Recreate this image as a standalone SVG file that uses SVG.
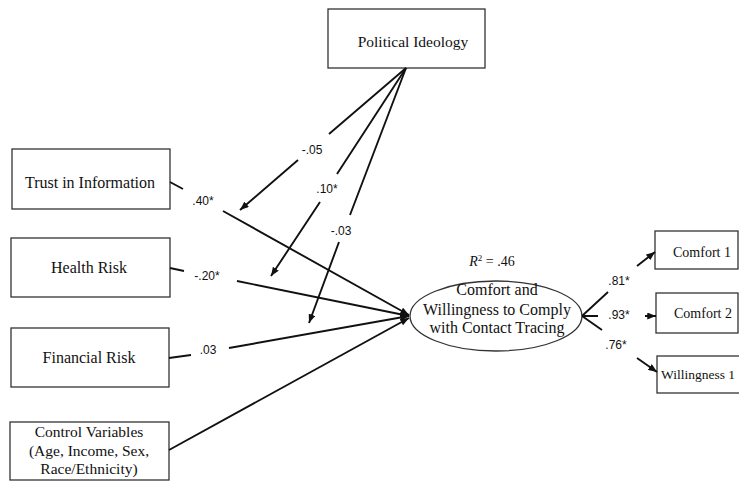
<svg xmlns="http://www.w3.org/2000/svg" width="739" height="481" viewBox="0 0 739 481">
<defs>
<style>
.box{fill:#fff;stroke:#333;stroke-width:1.3}
.lbl{font-family:"Liberation Serif","Times New Roman",serif;font-size:16px;fill:#111;text-anchor:middle}
.coef{font-family:"Liberation Sans",Arial,sans-serif;font-size:12px;fill:#111;text-anchor:middle}
.ln{fill:none;stroke:#111;stroke-width:1.9}
</style>
<marker id="ah" viewBox="0 0 10 8" refX="10" refY="4" markerWidth="9" markerHeight="7" markerUnits="userSpaceOnUse" orient="auto">
<path d="M0,0 L10,4 L0,8 z" fill="#111"/>
</marker>
</defs>
<rect width="739" height="481" fill="#fff"/>

<g id="political-ideology">
<rect class="box" x="328" y="9" width="157" height="59"/>
<text class="lbl" x="413" y="47" style="font-size:15.5px">Political Ideology</text>
</g>
<g id="trust">
<rect class="box" x="12" y="149" width="158" height="60"/>
<text class="lbl" x="90" y="188">Trust in Information</text>
</g>
<g id="health-risk">
<rect class="box" x="11" y="238" width="159" height="59"/>
<text class="lbl" x="89" y="273">Health Risk</text>
</g>
<g id="financial-risk">
<rect class="box" x="11" y="328" width="158" height="59"/>
<text class="lbl" x="89" y="363">Financial Risk</text>
</g>
<g id="control-variables">
<rect class="box" x="10" y="422" width="159" height="58"/>
<text class="lbl" x="89" y="437" style="font-size:15.5px">Control Variables</text>
<text class="lbl" x="89" y="456" style="font-size:15.5px">(Age, Income, Sex,</text>
<text class="lbl" x="89" y="474" style="font-size:15.5px">Race/Ethnicity)</text>
</g>
<g id="outcome">
<ellipse cx="496" cy="316" rx="86" ry="35" fill="#fff" stroke="#333" stroke-width="1.3"/>
<text class="lbl" x="497" y="295">Comfort and</text>
<text class="lbl" x="497" y="315">Willingness to Comply</text>
<text class="lbl" x="497" y="333">with Contact Tracing</text>
<text class="lbl" x="492" y="266" style="font-size:14px"><tspan font-style="italic">R</tspan><tspan dy="-5" font-size="9">2</tspan><tspan dy="5"> = .46</tspan></text>
</g>
<g id="comfort1">
<rect class="box" x="655" y="231" width="83" height="38"/>
<text class="lbl" x="702" y="257" style="font-size:14px">Comfort 1</text>
</g>
<g id="comfort2">
<rect class="box" x="656" y="293" width="82" height="40"/>
<text class="lbl" x="703" y="318" style="font-size:14px">Comfort 2</text>
</g>
<g id="willingness1">
<rect class="box" x="657" y="356" width="90" height="37"/>
<text class="lbl" x="661" y="379" style="font-size:13.5px;text-anchor:start">Willingness 1</text>
</g>

<g id="connectors">
<path class="ln" d="M170,182 L183,189 M223,211 L409,315" marker-end="url(#ah)"/>
<path class="ln" d="M170,268 L184,271 M237,281 L409,316" marker-end="url(#ah)"/>
<path class="ln" d="M169,358 L191,355 M229,348 L409,316" marker-end="url(#ah)"/>
<path class="ln" d="M169,450 L409,318" marker-end="url(#ah)"/>
<path class="ln" d="M406,68 L329,134 M298,160 L240,210" marker-end="url(#ah)"/>
<path class="ln" d="M406,68 L337,174 M320,202 L271,276" marker-end="url(#ah)"/>
<path class="ln" d="M406,68 L350,215 M339,242 L309,323" marker-end="url(#ah)"/>
<path class="ln" d="M582,316 L608,292 M637,266 L655,252" marker-end="url(#ah)"/>
<path class="ln" d="M582,316 L598,316 M645,316 L656,316" marker-end="url(#ah)"/>
<path class="ln" d="M582,316 L602,330 M637,358 L657,372" marker-end="url(#ah)"/>
<text class="coef" x="203" y="205">.40*</text>
<text class="coef" x="207" y="280">-.20*</text>
<text class="coef" x="208" y="354">.03</text>
<text class="coef" x="312" y="154">-.05</text>
<text class="coef" x="327" y="193">.10*</text>
<text class="coef" x="341" y="235">-.03</text>
<text class="coef" x="619" y="285">.81*</text>
<text class="coef" x="619" y="319">.93*</text>
<text class="coef" x="616" y="349">.76*</text>
</g>
</svg>
